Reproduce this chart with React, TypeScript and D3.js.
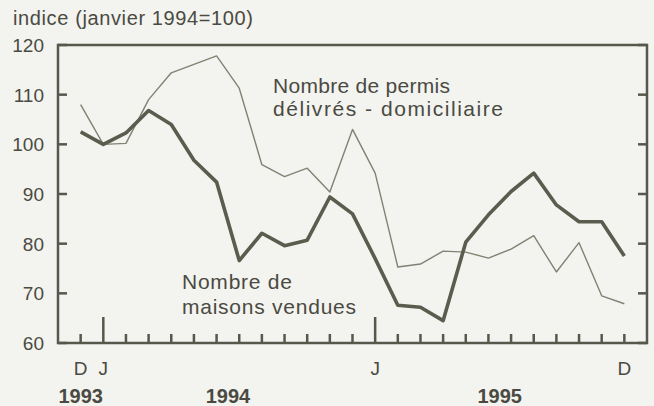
import React from 'react';
import * as d3 from 'd3';

// months from Dec 1993 (index 0) to Dec 1995 (index 24)
const maisonsVendues = [102.5, 100, 102.3, 106.8, 104, 96.8, 92.4, 76.6, 82.1, 79.6, 80.7, 89.4, 86, 77, 67.6, 67.2, 64.5, 80.3, 85.8, 90.5, 94.2, 87.8, 84.4, 84.4, 77.5];
const permisDelivres = [108, 100, 100.2, 109, 114.4, 116.1, 117.8, 111.3, 95.9, 93.5, 95.2, 90.4, 103, 94.2, 75.3, 75.9, 78.5, 78.3, 77.1, 78.9, 81.6, 74.3, 80.2, 69.5, 67.9];
const yTicks = [60, 70, 80, 90, 100, 110, 120];
const monthLabels = [{ i: 0, label: 'D' }, { i: 1, label: 'J' }, { i: 13, label: 'J' }, { i: 24, label: 'D' }];
const yearLabels = [{ pos: 0, label: '1993' }, { pos: 6.5, label: '1994' }, { pos: 18.5, label: '1995' }];
const janIdx = [1, 13];

const W = 654;
const H = 406;
const ink = '#55584b';
const textCol = '#4a4a42';
const font = 'Arial, "Liberation Sans", Helvetica, sans-serif';

export default function App() {
  const x = d3.scaleLinear().domain([-1, 25]).range([58, 647]);
  const y = d3.scaleLinear().domain([60, 120]).range([343, 45]);

  const line = d3.line<number>()
    .x((_, i) => x(i))
    .y(d => y(d));

  const months = d3.range(0, 25);

  return (
    <svg width={W} height={H} style={{ position: 'absolute', left: 0, top: 0, background: '#f3f3ef' }}>
      <rect width={W} height={H} fill="#f3f3ef" />

      <text x={13} y={25} fontFamily={font} fontSize={20} fill={textCol} textLength={240} lengthAdjust="spacing">indice (janvier 1994=100)</text>

      {/* frame */}
      <rect x={x(-1)} y={y(120)} width={x(25) - x(-1)} height={y(60) - y(120)}
        fill="none" stroke={ink} strokeWidth={2.5} />

      {/* y ticks, both sides */}
      {yTicks.map(t => (
        <g key={t}>
          <line x1={x(-1)} x2={x(-1) + 9} y1={y(t)} y2={y(t)} stroke={ink} strokeWidth={2.5} />
          <line x1={x(25)} x2={x(25) - 9} y1={y(t)} y2={y(t)} stroke={ink} strokeWidth={2.5} />
          <text x={44} y={y(t)} dy="0.36em" textAnchor="end" fontFamily={font} fontSize={19} fill={textCol}>{t}</text>
        </g>
      ))}

      {/* x ticks */}
      {months.map(i => (
        <line key={i} x1={x(i)} x2={x(i)} y1={y(60)} y2={y(60) - (janIdx.includes(i) ? 26 : 9)}
          stroke={ink} strokeWidth={2.5} />
      ))}
      {monthLabels.map(m => (
        <text key={m.i + m.label} x={x(m.i)} y={375} textAnchor="middle" fontFamily={font} fontSize={19} fill={textCol}>{m.label}</text>
      ))}
      {yearLabels.map(m => (
        <text key={m.label} x={x(m.pos)} y={403} textAnchor="middle" fontFamily={font} fontSize={20} fontWeight="bold" fill={textCol}>{m.label}</text>
      ))}

      {/* series */}
      <path d={line(permisDelivres) || ''} fill="none" stroke="#808373" strokeWidth={1.4} strokeLinejoin="round" />
      <path d={line(maisonsVendues) || ''} fill="none" stroke="#5a5d4e" strokeWidth={3.6} strokeLinejoin="round" />

      {/* labels */}
      <text fontFamily={font} fontSize={21} fill={textCol}>
        <tspan x={273} y={93} textLength={177} lengthAdjust="spacing">Nombre de permis</tspan>
        <tspan x={273} y={116} textLength={230} lengthAdjust="spacing">délivrés - domiciliaire</tspan>
      </text>
      <text fontFamily={font} fontSize={21} fill={textCol}>
        <tspan x={182} y={289} textLength={110} lengthAdjust="spacing">Nombre de</tspan>
        <tspan x={182} y={314} textLength={174} lengthAdjust="spacing">maisons vendues</tspan>
      </text>
    </svg>
  );
}
